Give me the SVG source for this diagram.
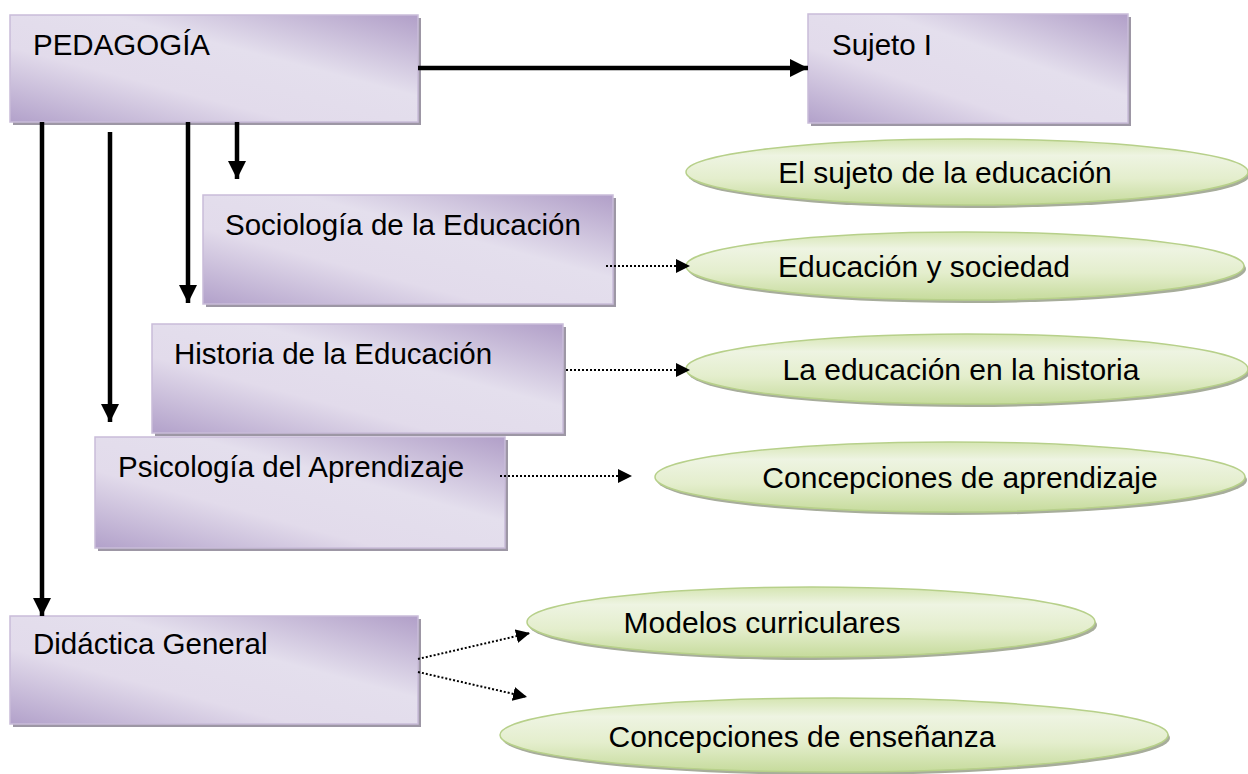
<svg xmlns="http://www.w3.org/2000/svg" width="1248" height="774" viewBox="0 0 1248 774">
<defs>
<linearGradient id="gp" x1="0" y1="1" x2="1" y2="0">
<stop offset="0" stop-color="#b2a1ca"/>
<stop offset="0.35" stop-color="#e2dbeb"/>
<stop offset="0.62" stop-color="#e4dfed"/>
<stop offset="1" stop-color="#b19fc8"/>
</linearGradient>
<linearGradient id="gg" x1="0" y1="0" x2="0" y2="1">
<stop offset="0" stop-color="#d5e5b2"/>
<stop offset="0.25" stop-color="#eef4e2"/>
<stop offset="0.6" stop-color="#e4eecd"/>
<stop offset="1" stop-color="#c6db9c"/>
</linearGradient>
<marker id="ah" viewBox="0 0 10 10" refX="10" refY="5" markerWidth="4" markerHeight="4" markerUnits="strokeWidth" orient="auto">
<path d="M0,0 L10,5 L0,10 z" fill="#000"/>
</marker>
<marker id="ad" viewBox="0 0 10 10" refX="10" refY="5" markerWidth="7" markerHeight="7" markerUnits="strokeWidth" orient="auto">
<path d="M0,0 L10,5 L0,10 z" fill="#000"/>
</marker>
</defs>
<style>
.box{fill:url(#gp);stroke:#c9bcd9;stroke-width:1.5}
.sh{fill:#9d97a5}
.ell{fill:url(#gg);stroke:#b7d08a;stroke-width:1.5}
.esh{fill:#a7ad9b}
text{font-family:"Liberation Sans",Arial,sans-serif;font-size:29.5px;fill:#000}
.mid{text-anchor:middle;font-size:30px}
.thick{stroke:#000;stroke-width:4.5;fill:none;marker-end:url(#ah)}
.dot{stroke:#000;stroke-width:2;stroke-dasharray:2 2;fill:none;marker-end:url(#ad)}
</style>
<rect width="1248" height="774" fill="#fff"/>

<g id="n-pedagogia">
<rect class="sh" x="13" y="18" width="408" height="107"/>
<rect class="box" x="10" y="15" width="408" height="107"/>
<text x="33" y="55">PEDAGOGÍA</text>
</g>
<g id="n-sujeto">
<rect class="sh" x="811" y="17" width="320" height="109"/>
<rect class="box" x="808" y="14" width="320" height="109"/>
<text x="832" y="55">Sujeto I</text>
</g>
<g id="n-sociologia">
<rect class="sh" x="206" y="198" width="410" height="109"/>
<rect class="box" x="203" y="195" width="410" height="109"/>
<text x="225" y="235">Sociología de la Educación</text>
</g>
<g id="n-historia">
<rect class="sh" x="155" y="327" width="411" height="109"/>
<rect class="box" x="152" y="324" width="411" height="109"/>
<text x="174" y="364">Historia de la Educación</text>
</g>
<g id="n-psicologia">
<rect class="sh" x="98" y="440" width="410" height="111"/>
<rect class="box" x="95" y="437" width="410" height="111"/>
<text x="118" y="477">Psicología del Aprendizaje</text>
</g>
<g id="n-didactica">
<rect class="sh" x="13" y="619" width="408" height="108"/>
<rect class="box" x="10" y="616" width="408" height="108"/>
<text x="33" y="654">Didáctica General</text>
</g>

<g id="e-sujeto">
<ellipse class="esh" cx="969" cy="175" rx="281" ry="33"/>
<ellipse class="ell" cx="967" cy="172" rx="281" ry="33"/>
<text class="mid" x="945" y="183">El sujeto de la educación</text>
</g>
<g id="e-sociedad">
<ellipse class="esh" cx="967" cy="269" rx="279" ry="34"/>
<ellipse class="ell" cx="965" cy="266" rx="279" ry="34"/>
<text class="mid" x="924" y="277">Educación y sociedad</text>
</g>
<g id="e-historia">
<ellipse class="esh" cx="969" cy="372" rx="281" ry="35"/>
<ellipse class="ell" cx="967" cy="369" rx="281" ry="35"/>
<text class="mid" x="961" y="380">La educación en la historia</text>
</g>
<g id="e-aprendizaje">
<ellipse class="esh" cx="952" cy="480" rx="295" ry="35"/>
<ellipse class="ell" cx="950" cy="477" rx="295" ry="35"/>
<text class="mid" x="960" y="488">Concepciones de aprendizaje</text>
</g>
<g id="e-modelos">
<ellipse class="esh" cx="813" cy="625" rx="284" ry="35"/>
<ellipse class="ell" cx="811" cy="622" rx="284" ry="35"/>
<text class="mid" x="762" y="633">Modelos curriculares</text>
</g>
<g id="e-ensenanza">
<ellipse class="esh" cx="836" cy="738" rx="334" ry="37"/>
<ellipse class="ell" cx="834" cy="735" rx="334" ry="37"/>
<text class="mid" x="802" y="747">Concepciones de enseñanza</text>
</g>

<g id="connectors">
<line class="thick" x1="418" y1="68" x2="808" y2="68"/>
<line class="thick" x1="42" y1="122" x2="42" y2="616"/>
<line class="thick" x1="110" y1="132" x2="110" y2="422"/>
<line class="thick" x1="188" y1="122" x2="188" y2="303"/>
<line class="thick" x1="237" y1="122" x2="237" y2="179"/>
<line class="dot" x1="606" y1="266" x2="690" y2="266"/>
<line class="dot" x1="566" y1="370" x2="690" y2="370"/>
<line class="dot" x1="500" y1="476" x2="632" y2="476"/>
<line class="dot" x1="418" y1="659" x2="530" y2="633"/>
<line class="dot" x1="418" y1="672" x2="527" y2="697"/>
</g>
</svg>
